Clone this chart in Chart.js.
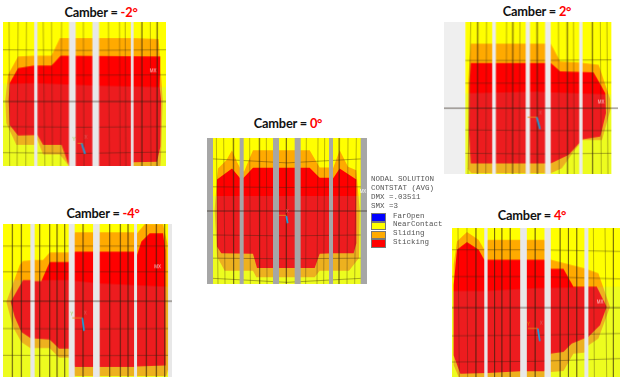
<!DOCTYPE html>
<html>
<head>
<meta charset="utf-8">
<title>Camber contact status</title>
<script src="https://cdn.jsdelivr.net/npm/chart.js@4"></script>
<style>
    html, body { margin: 0; padding: 0; background: #fff; overflow: hidden; }
    body { position: relative; width: 621px; height: 383px; }
    canvas { position: absolute; filter: blur(0.5px); }
    .titulo { position: absolute; transform: translate(-50%, -50%); white-space: nowrap;
        font: bold 12.8px Lato, sans-serif; letter-spacing: -0.2px; color: #111; }
    .titulo span { color: #f00; }
    .leyenda { position: absolute; font: 7.5px/9.2px "Liberation Mono", monospace; color: #555; white-space: pre; filter: blur(0.3px); }
    .muestra { position: absolute; width: 13px; height: 6.5px; border: 1px solid #777; box-sizing: content-box; }
</style>
</head>
<body>
<script>
// Contour outlines, in the mesh units of each panel
const titles = ["-2°", "-4°", "0°", "2°", "4°"];

const yellow = "#ffff00";
const orange = "#ffaa00";
const red = "#ff0000";

const legendHeader = ["NODAL SOLUTION", "CONTSTAT (AVG)", "DMX =.03511", "SMX =3"];
const legendLabels = ["FarOpen", "NearContact", "Sliding", "Sticking"];
const legendColors = ["#0000ff", yellow, orange, red];

// Camber = -2
const orangeA = [[55,170],[103,168],[155,168],[180,115],[400,115],[475,118],[487,300],[482,470],[480,498],[207,498],[180,463],[130,463],[113,420],[103,435],[50,435],[20,370],[17,300],[25,225]];
const redA = [[55,205],[103,197],[155,197],[182,168],[480,170],[478,260],[482,300],[480,440],[470,485],[400,487],[392,498],[207,498],[185,435],[130,435],[113,405],[55,407],[30,375],[27,300],[30,250]];
const shadeA = [[10,252],[103,250],[300,258],[497,262],[497,498],[10,498]];
const gapsA = [[103,113],[207,227],[277,297],[392,400]];
const meshXA = [[28,30],[55,52],[80,78],[130,135],[155,158],[185,182],[250,252],[325,328],[358,360],[375,377],[425,425],[450,452],[472,470]];
const meshYA = [[150,152,150],[225,226,225],[380,382,380],[458,460,456]];
const centerA = 305;
const axisBlueA = [[245,430],[255,462]];
const axisOrangeA = [[233,430],[248,430]];
const notesA = [["MX",458,213,"#ffd0d0"],["Y",222,418,"#8dc63f"],["X",257,412,"#d66"]];

// Camber = -4
const orangeB = [[20,305],[60,195],[70,183],[105,180],[130,180],[150,157],[207,157],[225,97],[403,97],[412,100],[435,73],[490,73],[503,130],[507,500],[500,527],[225,527],[207,472],[178,472],[150,443],[105,443],[92,443],[65,425],[40,380]];
const redB = [[33,305],[70,240],[92,240],[105,243],[125,243],[150,186],[207,186],[225,155],[403,155],[412,165],[425,125],[450,100],[490,100],[497,150],[498,495],[412,498],[403,500],[225,500],[207,445],[178,445],[150,418],[105,415],[92,413],[65,395],[45,350]];
const shadeB = [[10,240],[207,240],[300,250],[517,260],[517,530],[10,530]];
const gapsB = [[92,105],[207,225],[280,300],[403,412],[505,517]];
const meshXB = [[38,38],[65,65],[120,120],[150,150],[172,172],[195,195],[250,250],[330,330],[362,362],[385,385],[440,440],[470,470],[495,495]];
const meshYB = [[138,138,138],[215,215,215],[385,386,385],[465,466,465]];
const centerB = 303;
const axisBlueB = [[248,353],[253,392]];
const axisOrangeB = [[218,353],[248,353]];
const notesB = [["MX",474,202,"#ffd0d0"],["Y",216,342,"#8dc63f"],["X",257,340,"#d66"]];

// Camber = 0
const orangeC = [[45,300],[52,205],[55,175],[80,150],[97,120],[112,155],[122,175],[133,185],[160,120],[330,120],[360,172],[388,172],[400,175],[420,120],[445,170],[470,180],[480,300],[478,445],[448,483],[360,483],[345,503],[170,503],[160,483],[75,483],[52,440]];
const redC = [[52,208],[97,175],[122,205],[132,203],[160,173],[330,173],[360,203],[388,203],[400,205],[420,175],[470,208],[470,400],[462,430],[400,430],[360,432],[345,475],[172,475],[160,432],[65,430],[52,410]];
const shadeC = [[22,258],[502,258],[502,523],[22,523]];
const gapsC = [[22,40],[120,132],[220,238],[285,303],[388,400],[483,502]];
const meshXC = [[50,55],[72,76],[100,102],[150,152],[178,180],[200,202],[260,260],[320,318],[355,352],[375,372],[420,418],[445,442],[470,465]];
const meshYC = [[145,158,145],[230,232,230],[375,378,375],[445,447,445],[505,518,505]];
const centerC = 303;
const axisBlueC = [[260,318],[264,340]];
const axisOrangeC = [[238,316],[260,316]];
const notesC = [["MX",490,245,"#ffffff"],["X",263,306,"#d66"]];

// Camber = 2
const orangeD = [[100,250],[108,132],[330,132],[347,132],[375,185],[432,188],[490,195],[525,300],[525,330],[500,420],[442,420],[415,455],[380,505],[347,520],[110,520],[98,505],[100,400]];
const redD = [[105,250],[108,190],[347,190],[375,215],[475,218],[510,280],[512,340],[495,410],[442,418],[400,465],[347,490],[108,490],[103,400]];
const shadeD = [[92,280],[300,276],[528,284],[528,522],[92,522]];
const gapsD = [[172,183],[272,285],[330,347],[432,442]];
const meshXD = [[108,100],[130,128],[155,153],[215,213],[235,233],[255,253],[305,307],[370,372],[395,397],[415,417],[470,472],[495,498],[515,518]];
const meshYD = [[182,182,180],[250,250,248],[390,392,392],[460,462,460]];
const centerD = 325;
const backingD = [[28,92]];
const axisBlueD = [[305,352],[315,388]];
const axisOrangeD = [[278,352],[305,352]];
const notesD = [["MX",497,308,"#ffd0d0"],["X",316,341,"#d66"]];

// Camber = 4
const orangeE = [[55,180],[65,110],[95,82],[130,105],[147,135],[157,105],[328,105],[347,165],[400,178],[448,190],[490,205],[525,305],[490,400],[460,420],[448,442],[415,445],[385,497],[347,500],[328,515],[70,515],[55,480]];
const redE = [[55,240],[65,135],[95,112],[130,135],[147,165],[328,165],[347,192],[385,192],[415,245],[485,245],[515,305],[495,360],[460,395],[410,415],[385,440],[347,445],[328,498],[255,498],[157,503],[75,505],[55,450]];
const shadeE = [[50,258],[150,258],[300,250],[555,245],[555,515],[50,515]];
const gapsE = [[147,157],[255,275],[328,347],[448,460]];
const meshXE = [[68,72],[95,97],[122,122],[178,178],[200,200],[225,225],[300,300],[375,375],[400,400],[425,425],[475,478],[510,515],[535,535]];
const meshYE = [[135,135,140],[215,215,222],[392,390,385],[470,468,460]];
const centerE = 308;
const axisBlueE = [[308,370],[314,408]];
const axisOrangeE = [[278,370],[308,370]];
const notesE = [["MX",495,292,"#ffd0d0"],["Y",280,358,"#e0a000"],["X",318,354,"#d66"]];

// Panel placement on the page and visible range of its axes
const panels = [
    { left: 3.3, top: 22.3, width: 162.4, height: 143.7, x: [10, 497], y: [67, 498], title: [101, 12],
      orange: orangeA, red: redA, shade: shadeA, gaps: gapsA, meshX: meshXA, meshY: meshYA, center: centerA,
      axisBlue: axisBlueA, axisOrange: axisOrangeA, notes: notesA, gapColor: "#e8e8e8", tread: [10, 497], line: [10, 497] },
    { left: 3.3, top: 224, width: 169, height: 152.7, x: [10, 517], y: [72, 530], title: [103, 213],
      orange: orangeB, red: redB, shade: shadeB, gaps: gapsB, meshX: meshXB, meshY: meshYB, center: centerB,
      axisBlue: axisBlueB, axisOrange: axisOrangeB, notes: notesB, gapColor: "#e8e8e8", tread: [10, 517], line: [10, 517] },
    { left: 207.3, top: 137.7, width: 160, height: 146.7, x: [22, 502], y: [83, 523], title: [288, 123],
      orange: orangeC, red: redC, shade: shadeC, gaps: gapsC, meshX: meshXC, meshY: meshYC, center: centerC,
      axisBlue: axisBlueC, axisOrange: axisOrangeC, notes: notesC, gapColor: "#a6a6a6", tread: [22, 502], line: [22, 502] },
    { left: 444.3, top: 22.3, width: 173.3, height: 151.7, x: [28, 548], y: [67, 522], title: [537, 11],
      orange: orangeD, red: redD, shade: shadeD, gaps: gapsD, meshX: meshXD, meshY: meshYD, center: centerD, backing: backingD,
      axisBlue: axisBlueD, axisOrange: axisOrangeD, notes: notesD, gapColor: "#ececec", tread: [92, 528], line: [28, 548] },
    { left: 451.7, top: 228.3, width: 168.3, height: 148.3, x: [50, 555], y: [70, 515], title: [532, 215],
      orange: orangeE, red: redE, shade: shadeE, gaps: gapsE, meshX: meshXE, meshY: meshYE, center: centerE,
      axisBlue: axisBlueE, axisOrange: axisOrangeE, notes: notesE, gapColor: "#e8e8e8", tread: [50, 555], line: [50, 555] }
];

/**
 * Convierte una lista [x, y] en puntos para Chart.js
 */
function puntos(lista) {
    return lista.map(p => ({ x: p[0], y: p[1] }));
}

/**
 * Dataset relleno (contorno cerrado)
 */
function zona(lista, color) {
    return { data: puntos(lista), backgroundColor: color, borderColor: color, borderWidth: 0, fill: "shape", showLine: true, pointRadius: 0 };
}

/**
 * Dataset de una linea simple
 */
function linea(lista, color, ancho) {
    return { data: puntos(lista), borderColor: color, borderWidth: ancho, fill: false, showLine: true, pointRadius: 0 };
}

/**
 * Rectangulo a lo alto del panel
 */
function franja(x0, x1, y) {
    return [[x0, y[0]], [x1, y[0]], [x1, y[1]], [x0, y[1]]];
}

// Small text labels placed with the panel scales
const notasPlugin = {
    id: "notas",
    afterDatasetsDraw(chart, args, opts) {
        const { ctx, scales } = chart;
        ctx.save();
        ctx.font = "4.5px 'Liberation Sans', sans-serif";
        ctx.textAlign = "center";
        ctx.textBaseline = "middle";
        (opts.items || []).forEach(n => {
            ctx.fillStyle = n[3];
            ctx.fillText(n[0], scales.x.getPixelForValue(n[1]), scales.y.getPixelForValue(n[2]));
        });
        ctx.restore();
    }
};

function crearPanel(panel, titulo) {
    const canvas = document.createElement("canvas");
    canvas.style.left = panel.left + "px";
    canvas.style.top = panel.top + "px";
    canvas.style.width = panel.width + "px";
    canvas.style.height = panel.height + "px";
    document.body.appendChild(canvas);

    const meshColor = "rgba(50,35,15,0.55)";
    const capas = [];
    (panel.backing || []).forEach(g => {
        capas.push(zona(franja(g[0], g[1], panel.y), "#efefef"));
    });
    capas.push(zona(franja(panel.tread[0], panel.tread[1], panel.y), yellow));
    capas.push(zona(panel.orange, orange));
    capas.push(zona(panel.red, red));
    capas.push(zona(panel.shade, "rgba(108,233,255,0.12)"));
    panel.meshX.forEach(m => {
        capas.push(linea([[m[0], panel.y[0]], [m[1], panel.y[1]]], meshColor, 0.6));
    });
    const medio = (panel.tread[0] + panel.tread[1]) / 2;
    panel.meshY.forEach(m => {
        capas.push(linea([[panel.tread[0], m[0]], [medio, m[1]], [panel.tread[1], m[2]]], meshColor, 0.7));
    });
    panel.gaps.forEach(g => {
        capas.push(zona(franja(g[0], g[1], panel.y), panel.gapColor));
    });
    capas.push(linea([[panel.line[0], panel.center], [panel.line[1], panel.center]], "rgba(40,30,20,0.7)", 0.9));
    capas.push(linea(panel.axisOrange, "#e8891c", 0.9));
    capas.push(linea(panel.axisBlue, "#1e9bd7", 1.8));

    // Later layers go on top: a higher order is drawn first
    capas.forEach((c, i) => { c.order = capas.length - i; });

    new Chart(canvas.getContext("2d"), {
        type: "scatter",
        data: { datasets: capas },
        options: {
            responsive: false,
            animation: false,
            devicePixelRatio: 1,
            layout: { padding: 0 },
            scales: {
                x: { type: "linear", display: false, min: panel.x[0], max: panel.x[1] },
                y: { type: "linear", display: false, min: panel.y[0], max: panel.y[1], reverse: true }
            },
            plugins: {
                legend: { display: false },
                tooltip: { enabled: false },
                notas: { items: panel.notes }
            }
        },
        plugins: [notasPlugin]
    });

    const rotulo = document.createElement("div");
    rotulo.className = "titulo";
    rotulo.style.left = panel.title[0] + "px";
    rotulo.style.top = panel.title[1] + "px";
    rotulo.innerHTML = "Camber = <span>" + titulo + "</span>";
    document.body.appendChild(rotulo);
}

function crearLeyenda() {
    legendHeader.forEach((texto, i) => {
        const el = document.createElement("div");
        el.className = "leyenda";
        el.style.left = "371px";
        el.style.top = (174.5 + i * 9.3) + "px";
        el.textContent = texto;
        document.body.appendChild(el);
    });
    legendLabels.forEach((texto, i) => {
        const caja = document.createElement("div");
        caja.className = "muestra";
        caja.style.left = "371px";
        caja.style.top = (213 + i * 8.75) + "px";
        caja.style.background = legendColors[i];
        document.body.appendChild(caja);

        const el = document.createElement("div");
        el.className = "leyenda";
        el.style.left = "393px";
        el.style.top = (211.5 + i * 8.75) + "px";
        el.textContent = texto;
        document.body.appendChild(el);
    });
}

panels.forEach((panel, i) => crearPanel(panel, titles[i]));
crearLeyenda();
</script>
</body>
</html>
